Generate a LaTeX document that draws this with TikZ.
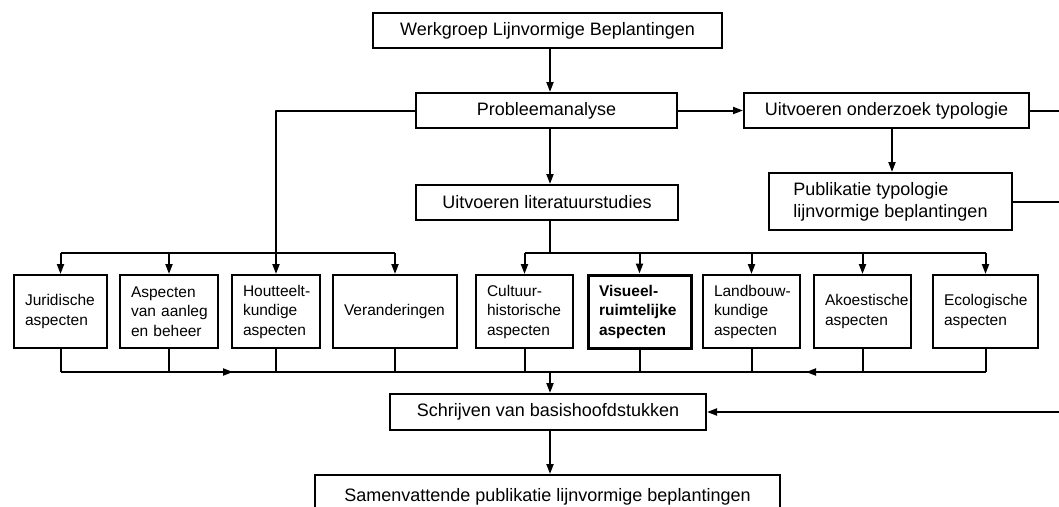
\documentclass[tikz,border=0pt]{standalone}
\usepackage{fontspec}
\setmainfont{Liberation Sans}
\usetikzlibrary{arrows.meta,calc}
\hyphenpenalty=10000
\exhyphenpenalty=10000
\begin{document}
\begin{tikzpicture}[x=1pt,y=-1pt,
  box/.style={draw,line width=2pt,inner sep=0pt,minimum height=35pt,font=\fontsize{18}{22}\selectfont},
  sbox/.style={draw,line width=2pt,inner xsep=11pt,inner ysep=0pt,minimum height=73pt,align=left,font=\fontsize{15.5}{19.5}\selectfont},
  conn/.style={line width=2pt,line join=round},
  arr/.style={conn,-{Triangle[length=10pt,width=7pt]}},
]
\useasboundingbox (0,0) rectangle (1059,506);
\clip (0,0) rectangle (1059,506);
\fill[white] (0,0) rectangle (1059,506);

% main column
\node[box,minimum width=349pt] (top) at (547.5,30.5) {Werkgroep Lijnvormige Beplantingen};
\node[box,minimum width=261pt] (prob) at (546.5,110.5) {Probleemanalyse};
\node[box,minimum width=262pt] (lit) at (547,202.5) {Uitvoeren literatuurstudies};
\node[box,minimum width=285pt] (typ) at (886.5,110.5) {Uitvoeren onderzoek typologie};
\node[box,minimum width=243pt,minimum height=57pt,align=left] (pub) at (890.5,201.5) {Publikatie typologie\\lijnvormige beplantingen};
\node[box,minimum width=316pt,minimum height=36pt] (schr) at (548,412) {Schrijven van basishoofdstukken};
\node[box,minimum width=465pt,minimum height=44pt] (sam) at (547.5,497) {Samenvattende publikatie lijnvormige beplantingen};

% aspect boxes
\node[sbox,text width=71pt] (jur) at (60.5,311.5) {Juridische\\aspecten};
\node[sbox,text width=76pt] (asp) at (169,311.5) {Aspecten\\van~aanleg\\en~beheer};
\node[sbox,text width=66pt] (hout) at (276,311.5) {Houtteelt\mbox{-}\\kundige\\aspecten};
\node[sbox,text width=102pt] (ver) at (395,311.5) {Veranderingen};
\node[sbox,text width=75pt] (cul) at (524.5,311.5) {Cultuur\mbox{-}\\historische\\aspecten};
\node[sbox,text width=81pt,line width=3pt,font=\fontsize{15.5}{19.5}\selectfont\bfseries] (vis) at (639.5,311.5) {Visueel\mbox{-}\\ruimtelijke\\aspecten};
\node[sbox,text width=75pt] (land) at (751.5,311.5) {Landbouw\mbox{-}\\kundige\\aspecten};
\node[sbox,text width=75pt] (ako) at (862.5,311.5) {Akoestische\\aspecten};
\node[sbox,text width=83pt] (eco) at (985.5,311.5) {Ecologische\\aspecten};

% helper coordinates
\coordinate (colx) at (550,0);
\coordinate (pubx) at (892,0);
\coordinate (edge) at (1064,0);
\coordinate (lev) at (0,253);
\coordinate (bot) at (0,372);
\coordinate (ma) at (233,372);
\coordinate (mb) at (806,372);

% top flow
\draw[arr] (top.south -| colx) -- (prob.north -| colx);
\draw[arr] (prob.south -| colx) -- (lit.north -| colx);
\draw[arr] (prob.east) -- (typ.west);
\draw[arr] (typ.south -| pubx) -- (pub.north -| pubx);
\draw[conn] (typ.east) -- (typ.east -| edge);
\draw[conn] (pub.east) -- (pub.east -| edge);
\draw[arr] (schr.east -| edge) -- (schr.east);

% left group from Probleemanalyse
\draw[arr] (prob.west) -| (hout.north);
\draw[conn] (jur.north |- lev) -- (ver.north |- lev);
\foreach \b in {jur,asp,ver} \draw[arr] (\b.north |- lev) -- (\b.north);

% right group from literatuurstudies
\draw[conn] (lit.south -| colx) -- (colx |- lev);
\draw[conn] (cul.north |- lev) -- (eco.north |- lev);
\foreach \b in {cul,vis,land,ako,eco} \draw[arr] (\b.north |- lev) -- (\b.north);

% collecting line
\foreach \b in {jur,asp,hout,ver,cul,vis,land,ako,eco} \draw[conn] (\b.south) -- (\b.south |- bot);
\draw[conn] (jur.south |- bot) -- (eco.south |- bot);
\draw[arr] (jur.south |- bot) -- (ma);
\draw[arr] (eco.south |- bot) -- (mb);
\draw[arr] (colx |- bot) -- (schr.north -| colx);
\draw[arr] (schr.south -| colx) -- (sam.north -| colx);
\end{tikzpicture}
\end{document}
